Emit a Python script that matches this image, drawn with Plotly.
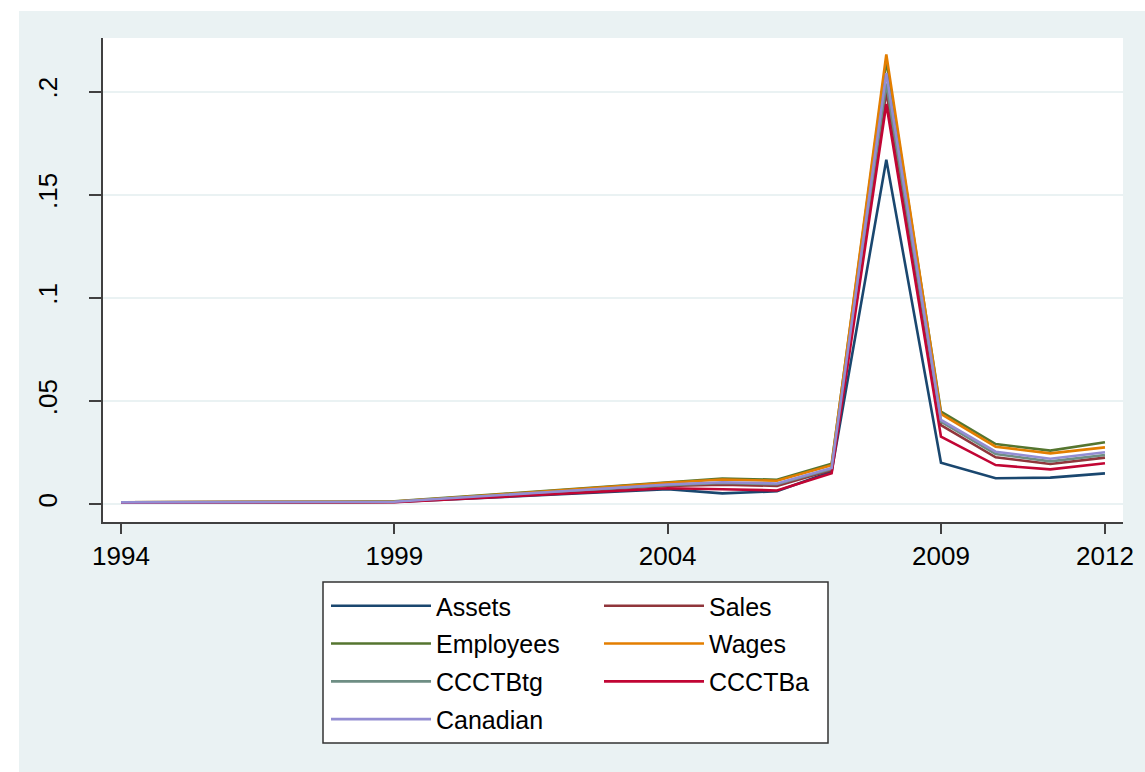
import plotly.graph_objects as go

years = list(range(1994, 2013))

assets    = [0.0007, 0.0007, 0.0008, 0.0008, 0.0009, 0.0010, 0.0022, 0.0035, 0.0045, 0.0058, 0.0072, 0.0052, 0.0062, 0.0158, 0.167, 0.0200, 0.0125, 0.0128, 0.0149]
sales     = [0.0008, 0.0008, 0.0009, 0.0009, 0.0010, 0.0011, 0.0026, 0.0042, 0.0056, 0.0072, 0.0088, 0.0094, 0.0088, 0.0165, 0.200, 0.0383, 0.0227, 0.0194, 0.0225]
employees = [0.0009, 0.0009, 0.0010, 0.0010, 0.0011, 0.0013, 0.0030, 0.0050, 0.0068, 0.0086, 0.0107, 0.0124, 0.0118, 0.0195, 0.215, 0.0448, 0.0291, 0.0259, 0.0300]
wages     = [0.0009, 0.0009, 0.0010, 0.0010, 0.0011, 0.0012, 0.0029, 0.0048, 0.0065, 0.0083, 0.0103, 0.0119, 0.0113, 0.0188, 0.218, 0.0437, 0.0278, 0.0246, 0.0275]
ccctbtg   = [0.0008, 0.0008, 0.0009, 0.0009, 0.0010, 0.0011, 0.0027, 0.0044, 0.0059, 0.0075, 0.0092, 0.0102, 0.0096, 0.0170, 0.204, 0.0400, 0.0243, 0.0207, 0.0238]
ccctba    = [0.0007, 0.0007, 0.0008, 0.0008, 0.0009, 0.0009, 0.0022, 0.0036, 0.0048, 0.0062, 0.0077, 0.0072, 0.0066, 0.0149, 0.194, 0.0327, 0.0189, 0.0168, 0.0198]
canadian  = [0.0008, 0.0008, 0.0009, 0.0009, 0.0010, 0.0011, 0.0028, 0.0046, 0.0061, 0.0078, 0.0095, 0.0106, 0.0100, 0.0175, 0.209, 0.0408, 0.0254, 0.0220, 0.0251]

series_names = ["Assets", "Sales", "Employees", "Wages", "CCCTBtg", "CCCTBa", "Canadian"]
series_vals = [assets, sales, employees, wages, ccctbtg, ccctba, canadian]
colors = ["#1a476f", "#90353b", "#55752f", "#e37e00", "#6e8e84", "#c10534", "#938dd2"]
# legend column for each series (Stata fills legend row-wise in 2 columns)
legend_col = ["legend", "legend2", "legend", "legend2", "legend", "legend2", "legend"]

x_ticks = [1994, 1999, 2004, 2009, 2012]
y_ticks = [0, 0.05, 0.1, 0.15, 0.2]
y_tick_text = ["0", ".05", ".1", ".15", ".2"]

fig = go.Figure()
for name, vals, c, lg in zip(series_names, series_vals, colors, legend_col):
    fig.add_trace(go.Scatter(x=years, y=vals, mode="lines", name=name,
                             legend=lg, legendgroup=name,
                             line=dict(color=c, width=2.6)))

W, H = 1145, 772
L, R, T, B = 103, 22, 38, 250
pw, ph = W - L - R, H - T - B

def px_x(p):
    return (p - L) / pw

def px_y(p):
    return (H - B - p) / ph

bg = "#eaf2f3"
fig.add_shape(type="rect", xref="paper", yref="paper", layer="below",
              x0=px_x(19), x1=px_x(1150), y0=px_y(780), y1=px_y(11),
              fillcolor=bg, line=dict(width=0))
fig.add_shape(type="rect", xref="paper", yref="paper", layer="below",
              x0=0, x1=px_x(1123), y0=0, y1=1,
              fillcolor="white", line=dict(width=0))
# legend frame
fig.add_shape(type="rect", xref="paper", yref="paper", layer="above",
              x0=px_x(323), x1=px_x(828), y0=px_y(743), y1=px_y(582),
              fillcolor="white", line=dict(color="#333333", width=1.5))

font = "Liberation Sans, Arial, sans-serif"
legend_common = dict(orientation="v", yanchor="top", xanchor="left",
                     bgcolor="rgba(0,0,0,0)", borderwidth=0, itemwidth=100,
                     tracegroupgap=2.3,
                     font=dict(family=font, size=25, color="black"),
                     traceorder="grouped")
fig.update_layout(
    width=W, height=H,
    margin=dict(l=L, r=R, t=T, b=B, pad=0),
    paper_bgcolor="white", plot_bgcolor="white",
    font=dict(family=font, size=25, color="black"),
    showlegend=True,
    legend=dict(x=px_x(326), y=px_y(583), **legend_common),
    legend2=dict(x=px_x(599), y=px_y(583), **legend_common),
    xaxis=dict(range=[1993.67, 2012.33], tickmode="array", tickvals=x_ticks,
               ticktext=[str(v) for v in x_ticks],
               showgrid=False, zeroline=False, showline=True, linecolor="#404040", linewidth=1.5,
               ticks="outside", ticklen=10, tickwidth=1.5, tickcolor="#404040",
               tickfont=dict(family=font, size=26, color="black")),
    yaxis=dict(range=[-0.0087, 0.226], tickmode="array", tickvals=y_ticks, ticktext=y_tick_text,
               showgrid=True, gridcolor=bg, gridwidth=2, zeroline=False,
               showline=True, linecolor="#404040", linewidth=1.5,
               ticks="outside", ticklen=12, tickwidth=1.5, tickcolor="#404040",
               tickangle=-90, ticklabelstandoff=22,
               tickfont=dict(family=font, size=26, color="black")),
)

fig.write_html("out.html", config={"displayModeBar": False},
               post_script="document.body.style.margin='0';document.body.style.overflow='hidden';")
